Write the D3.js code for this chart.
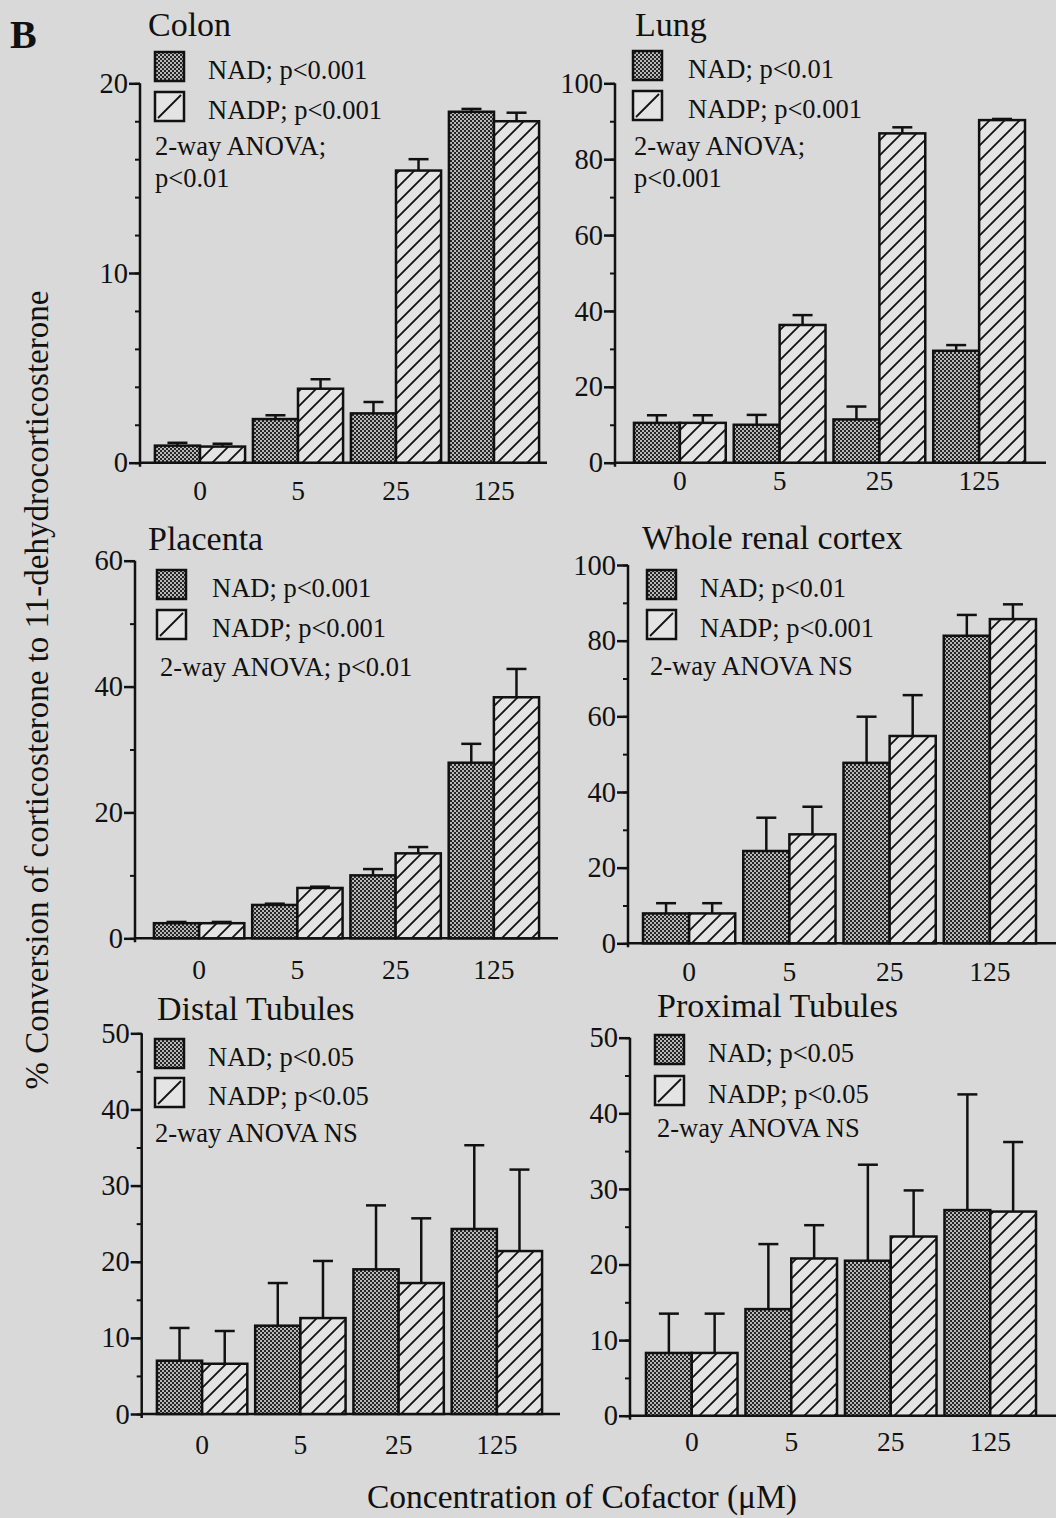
<!DOCTYPE html>
<html>
<head>
<meta charset="utf-8">
<script src="https://cdn.jsdelivr.net/npm/d3@7"></script>
<style>
  html, body { margin: 0; padding: 0; background: #d9d9d9; }
  svg { display: block; }
  text { font-family: "Liberation Serif", "Times New Roman", serif; fill: #111; }
</style>
</head>
<body>
<svg id="chart" width="1056" height="1518"></svg>
<script>
// ---------- DATA ----------
const categories = ["0", "5", "25", "125"];
const seriesNames = ["NAD", "NADP"];
const panelTitles = ["Colon", "Lung", "Placenta", "Whole renal cortex", "Distal Tubules", "Proximal Tubules"];
const yMaxValues = [20, 100, 60, 100, 50, 50];
const yMajorSteps = [10, 20, 20, 20, 10, 10];
const yMinorSteps = [2, 10, 10, 10, 5, 5];

const colonNAD = [0.9, 2.3, 2.6, 18.5];
const colonNADErr = [0.15, 0.2, 0.6, 0.15];
const colonNADP = [0.85, 3.9, 15.4, 18.0];
const colonNADPErr = [0.15, 0.5, 0.6, 0.45];

const lungNAD = [10.5, 10.0, 11.4, 29.5];
const lungNADErr = [2.0, 2.6, 3.4, 1.5];
const lungNADP = [10.5, 36.3, 86.8, 90.3];
const lungNADPErr = [2.0, 2.6, 1.6, 0.3];

const placentaNAD = [2.4, 5.3, 10.0, 27.9];
const placentaNADErr = [0.2, 0.2, 1.0, 3.0];
const placentaNADP = [2.4, 8.0, 13.5, 38.3];
const placentaNADPErr = [0.2, 0.2, 1.0, 4.5];

const cortexNAD = [7.9, 24.4, 47.7, 81.3];
const cortexNADErr = [2.7, 8.8, 12.2, 5.5];
const cortexNADP = [7.9, 28.8, 54.8, 85.7];
const cortexNADPErr = [2.7, 7.3, 10.8, 3.9];

const distalNAD = [7.0, 11.6, 19.0, 24.3];
const distalNADErr = [4.3, 5.6, 8.4, 11.0];
const distalNADP = [6.6, 12.6, 17.2, 21.4];
const distalNADPErr = [4.3, 7.5, 8.5, 10.7];

const proximalNAD = [8.3, 14.1, 20.5, 27.2];
const proximalNADErr = [5.2, 8.6, 12.7, 15.3];
const proximalNADP = [8.3, 20.8, 23.7, 27.0];
const proximalNADPErr = [5.2, 4.4, 6.1, 9.2];

const legendNAD = ["NAD; p<0.001", "NAD; p<0.01", "NAD; p<0.001", "NAD; p<0.01", "NAD; p<0.05", "NAD; p<0.05"];
const legendNADP = ["NADP; p<0.001", "NADP; p<0.001", "NADP; p<0.001", "NADP; p<0.001", "NADP; p<0.05", "NADP; p<0.05"];
const anovaNotes = [["2-way ANOVA;", "p<0.01"], ["2-way ANOVA;", "p<0.001"], ["2-way ANOVA; p<0.01"],
                    ["2-way ANOVA NS"], ["2-way ANOVA NS"], ["2-way ANOVA NS"]];

const yAxisTitle = "% Conversion of corticosterone to 11-dehydrocorticosterone";
const xAxisTitle = "Concentration of Cofactor (\u03BCM)";
const panelLetter = "B";

const panelValues = [
  [colonNAD, colonNADErr, colonNADP, colonNADPErr],
  [lungNAD, lungNADErr, lungNADP, lungNADPErr],
  [placentaNAD, placentaNADErr, placentaNADP, placentaNADPErr],
  [cortexNAD, cortexNADErr, cortexNADP, cortexNADPErr],
  [distalNAD, distalNADErr, distalNADP, distalNADPErr],
  [proximalNAD, proximalNADErr, proximalNADP, proximalNADPErr]
];

// ---------- LAYOUT ----------
const layout = [
  {ax:140, y0:462.7, yTop:83.3, xEnd:547, bs:155, be:539, tx:148, ty:36, lx:155, ly1:52, ly2:92, ltx:208, ax2:155, an:[155,187], xl:39},
  {ax:615, y0:462.7, yTop:83.3, xEnd:1046, bs:634, be:1025, tx:635, ty:36, lx:633, ly1:51, ly2:91, ltx:688, ax2:634, an:[155,187], xl:29},
  {ax:135, y0:938.3, yTop:560.7, xEnd:558, bs:154, be:539, tx:148, ty:550, lx:157, ly1:570, ly2:610, ltx:212, ax2:160, an:[676], xl:42},
  {ax:628, y0:943.3, yTop:565, xEnd:1056, bs:643, be:1036, tx:642, ty:549, lx:647, ly1:570, ly2:610, ltx:700, ax2:650, an:[675], xl:39},
  {ax:141.7, y0:1414, yTop:1033.3, xEnd:560, bs:157, be:542, tx:157, ty:1020, lx:155, ly1:1039, ly2:1078, ltx:208, ax2:155, an:[1142], xl:41},
  {ax:630, y0:1415.7, yTop:1037.7, xEnd:1056, bs:646, be:1036, tx:657, ty:1017, lx:655, ly1:1035, ly2:1076, ltx:708, ax2:657, an:[1137], xl:37}
];

const svg = d3.select("#chart");
svg.append("rect").attr("width", 1056).attr("height", 1518).attr("fill", "#d9d9d9");

// patterns
const defs = svg.append("defs");
const stip = defs.append("pattern").attr("id", "stipple").attr("patternUnits", "userSpaceOnUse")
  .attr("width", 4).attr("height", 4);
stip.append("rect").attr("width", 4).attr("height", 4).attr("fill", "#262626");
stip.append("rect").attr("x", 0).attr("y", 0).attr("width", 2).attr("height", 2).attr("fill", "#b8b8b8");
stip.append("rect").attr("x", 2).attr("y", 2).attr("width", 2).attr("height", 2).attr("fill", "#b8b8b8");

const hatch = defs.append("pattern").attr("id", "hatch").attr("patternUnits", "userSpaceOnUse")
  .attr("width", 15).attr("height", 15);
hatch.append("rect").attr("width", 15).attr("height", 15).attr("fill", "#e4e4e4");
hatch.append("path").attr("d", "M-3,3 L3,-3 M0,15 L15,0 M12,18 L18,12")
  .attr("stroke", "#111").attr("stroke-width", 1.8);

const fills = ["url(#stipple)", "url(#hatch)"];
const SW = 2.5;

panelValues.forEach((vals, i) => {
  const L = layout[i];
  const g = svg.append("g");
  const y = d3.scaleLinear().domain([0, yMaxValues[i]]).range([L.y0, L.yTop]);
  const x = d3.scaleBand().domain(categories).range([L.bs - 4, L.be + 4]).paddingInner(0.08).paddingOuter(0.04);
  const xs = d3.scaleBand().domain(seriesNames).range([0, x.bandwidth()]).padding(0);

  // minor ticks
  const minorTicks = d3.range(0, yMaxValues[i] + 1e-9, yMinorSteps[i]);
  g.append("g").attr("transform", `translate(${L.ax},0)`)
    .call(d3.axisLeft(y).tickValues(minorTicks).tickSize(5).tickFormat(""))
    .call(s => s.select(".domain").remove())
    .call(s => s.selectAll("line").attr("stroke", "#111").attr("stroke-width", 2));

  // major ticks + labels
  const majorTicks = d3.range(0, yMaxValues[i] + 1e-9, yMajorSteps[i]);
  g.append("g").attr("transform", `translate(${L.ax},0)`)
    .call(d3.axisLeft(y).tickValues(majorTicks).tickSize(11).tickPadding(1).tickFormat(d3.format("d")))
    .call(s => s.select(".domain").remove())
    .call(s => s.selectAll("line").attr("stroke", "#111").attr("stroke-width", SW))
    .call(s => s.selectAll("text").attr("font-size", 28.5).attr("font-family", "Liberation Serif").attr("fill", "#111"));

  // y axis line
  g.append("line").attr("x1", L.ax).attr("x2", L.ax).attr("y1", L.y0 + 4).attr("y2", L.yTop)
    .attr("stroke", "#111").attr("stroke-width", SW);
  // x axis line
  g.append("line").attr("x1", L.ax).attr("x2", L.xEnd).attr("y1", L.y0).attr("y2", L.y0)
    .attr("stroke", "#111").attr("stroke-width", SW);

  // x tick labels
  g.append("g").attr("transform", `translate(0,${L.y0})`)
    .call(d3.axisBottom(x).tickSize(0).tickPadding(L.xl - 21))
    .call(s => s.select(".domain").remove())
    .call(s => s.selectAll("text").attr("font-size", 27.5).attr("font-family", "Liberation Serif").attr("fill", "#111"));

  // bars
  const rows = [];
  categories.forEach((c, k) => {
    seriesNames.forEach((sName, si) => {
      rows.push({cat: c, s: sName, si: si, v: vals[si * 2][k], e: vals[si * 2 + 1][k]});
    });
  });
  const bars = g.append("g");
  bars.selectAll("rect").data(rows).join("rect")
    .attr("x", d => x(d.cat) + xs(d.s))
    .attr("y", d => y(d.v))
    .attr("width", xs.bandwidth())
    .attr("height", d => y(0) - y(d.v))
    .attr("fill", d => fills[d.si])
    .attr("stroke", "#111").attr("stroke-width", SW);

  // error bars
  const eb = g.append("g").attr("stroke", "#111").attr("stroke-width", SW);
  eb.selectAll("line.v").data(rows).join("line").attr("class", "v")
    .attr("x1", d => x(d.cat) + xs(d.s) + xs.bandwidth() / 2)
    .attr("x2", d => x(d.cat) + xs(d.s) + xs.bandwidth() / 2)
    .attr("y1", d => y(d.v)).attr("y2", d => y(d.v + d.e));
  eb.selectAll("line.c").data(rows).join("line").attr("class", "c")
    .attr("x1", d => x(d.cat) + xs(d.s) + xs.bandwidth() / 2 - 10)
    .attr("x2", d => x(d.cat) + xs(d.s) + xs.bandwidth() / 2 + 10)
    .attr("y1", d => y(d.v + d.e)).attr("y2", d => y(d.v + d.e));

  // title
  g.append("text").attr("x", L.tx).attr("y", L.ty).attr("font-size", 34).text(panelTitles[i]);

  // legend
  const bw = 29, bh = 29;
  g.append("rect").attr("x", L.lx).attr("y", L.ly1).attr("width", bw).attr("height", bh)
    .attr("fill", fills[0]).attr("stroke", "#111").attr("stroke-width", SW);
  g.append("rect").attr("x", L.lx).attr("y", L.ly2).attr("width", bw).attr("height", bh)
    .attr("fill", "#e4e4e4").attr("stroke", "#111").attr("stroke-width", SW);
  g.append("line").attr("x1", L.lx + 3).attr("y1", L.ly2 + bh - 3).attr("x2", L.lx + bw - 3).attr("y2", L.ly2 + 3)
    .attr("stroke", "#111").attr("stroke-width", 1.8);
  g.append("text").attr("x", L.ltx).attr("y", L.ly1 + bh - 2).attr("font-size", 26.5).text(legendNAD[i]);
  g.append("text").attr("x", L.ltx).attr("y", L.ly2 + bh - 2).attr("font-size", 26.5).text(legendNADP[i]);
  anovaNotes[i].forEach((t, k) => {
    g.append("text").attr("x", L.ax2).attr("y", L.an[k]).attr("font-size", 26.5).text(t);
  });
});

// panel letter
svg.append("text").attr("x", 10).attr("y", 48).attr("font-size", 40).attr("font-weight", "bold").text(panelLetter);

// axis titles
svg.append("text").attr("transform", "translate(48,690) rotate(-90)").attr("text-anchor", "middle")
  .attr("font-size", 33).text(yAxisTitle);
svg.append("text").attr("x", 582).attr("y", 1508).attr("text-anchor", "middle")
  .attr("font-size", 33.5).text(xAxisTitle);
</script>
</body>
</html>
